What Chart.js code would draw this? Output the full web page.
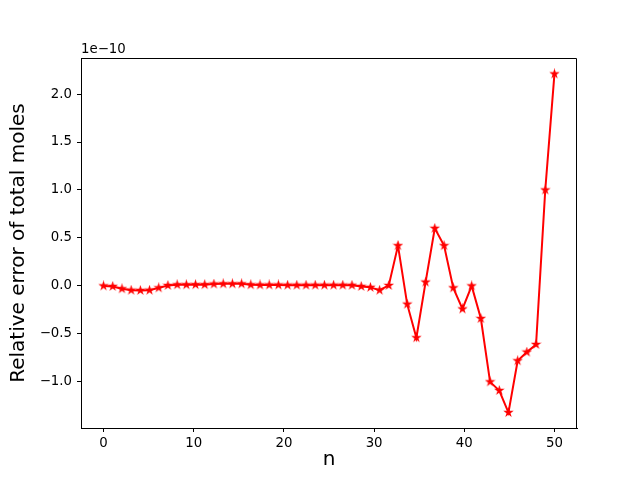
<!DOCTYPE html>
<html>
<head>
<meta charset="utf-8">
<script src="https://cdn.jsdelivr.net/npm/chart.js@4/dist/chart.umd.min.js"></script>
<style>
    body { margin: 0; background: #fff; }
    canvas { display: block; }
</style>
</head>
<body>
<canvas id="errorGraph" width="640" height="480"></canvas>
<script>
// n sampled on linspace(0, 50, 50)
const nValues = [0, 1.02, 2.04, 3.06, 4.08, 5.10, 6.12, 7.14, 8.16, 9.18,
    10.20, 11.22, 12.24, 13.27, 14.29, 15.31, 16.33, 17.35, 18.37, 19.39,
    20.41, 21.43, 22.45, 23.47, 24.49, 25.51, 26.53, 27.55, 28.57, 29.59,
    30.61, 31.63, 32.65, 33.67, 34.69, 35.71, 36.73, 37.76, 38.78, 39.80,
    40.82, 41.84, 42.86, 43.88, 44.90, 45.92, 46.94, 47.96, 48.98, 50];
// relative error, in units of 1e-10
const errorE10 = [0.0, -0.005, -0.03, -0.045, -0.047, -0.045, -0.02, 0.005, 0.012, 0.012,
    0.013, 0.013, 0.02, 0.022, 0.022, 0.022, 0.012, 0.01, 0.01, 0.01,
    0.008, 0.008, 0.008, 0.008, 0.008, 0.008, 0.008, 0.007, -0.005, -0.015,
    -0.045, 0.005, 0.42, -0.19, -0.54, 0.04, 0.60, 0.42, -0.02, -0.24,
    0.0, -0.34, -1.0, -1.09, -1.32, -0.78, -0.69, -0.61, 1.0, 2.21];
const xTicks = [0, 10, 20, 30, 40, 50];
const yTicks = [-1.0, -0.5, 0.0, 0.5, 1.0, 1.5, 2.0];

const tickFont = { family: 'DejaVu Sans', size: 13.3 };
const titleFont = { family: 'DejaVu Sans', size: 20 };

function starMarker(size, color) {
    const c = document.createElement('canvas');
    c.width = size;
    c.height = size;
    const g = c.getContext('2d');
    const cx = size / 2, cy = size / 2;
    const outer = size / 2, inner = outer * 0.38;
    g.beginPath();
    for (let k = 0; k < 10; k++) {
        const r = k % 2 === 0 ? outer : inner;
        const a = -Math.PI / 2 + k * Math.PI / 5;
        g.lineTo(cx + r * Math.cos(a), cy + r * Math.sin(a));
    }
    g.closePath();
    g.fillStyle = color;
    g.fill();
    return c;
}

// top and right spines plus the offset text
const framePlugin = {
    id: 'frame',
    afterDraw(chart) {
        const { ctx, chartArea } = chart;
        ctx.save();
        ctx.strokeStyle = '#000';
        ctx.lineWidth = 1;
        ctx.beginPath();
        ctx.moveTo(chartArea.left, chartArea.top + 0.5);
        ctx.lineTo(chartArea.right - 0.5, chartArea.top + 0.5);
        ctx.lineTo(chartArea.right - 0.5, chartArea.bottom);
        ctx.stroke();
        ctx.fillStyle = '#000';
        ctx.font = '13.3px "DejaVu Sans"';
        ctx.textAlign = 'left';
        ctx.textBaseline = 'alphabetic';
        ctx.fillText('1e\u221210', chartArea.left, chartArea.top - 5);
        ctx.restore();
    }
};

function fixedTicks(list) {
    return function (scale) {
        scale.ticks = list.map((v) => ({ value: v }));
    };
}

const ctx = document.getElementById('errorGraph').getContext('2d');
new Chart(ctx, {
    type: 'line',
    data: {
        datasets: [{
            data: nValues.map((n, i) => ({ x: n, y: errorE10[i] })),
            borderColor: '#ff0000',
            borderWidth: 2,
            pointStyle: starMarker(11, '#ff0000'),
            pointRadius: 5,
            tension: 0,
            fill: false,
        }]
    },
    options: {
        responsive: false,
        animation: false,
        layout: { padding: { left: 0, right: 63, top: 58, bottom: 0 } },
        plugins: { legend: { display: false }, tooltip: { enabled: false } },
        scales: {
            x: {
                type: 'linear',
                min: -2.5,
                max: 52.5,
                afterBuildTicks: fixedTicks(xTicks),
                afterFit: (scale) => { scale.height = 52; },
                grid: { drawOnChartArea: false, tickLength: 4, color: '#000' },
                border: { color: '#000' },
                ticks: { color: '#000', font: tickFont, padding: 4, maxRotation: 0 },
                title: { display: true, text: 'n', color: '#000', font: titleFont, padding: { top: 0, bottom: 8 } },
            },
            y: {
                type: 'linear',
                min: -1.481,
                max: 2.376,
                afterBuildTicks: fixedTicks(yTicks),
                afterFit: (scale) => { scale.width = 81; },
                grid: { drawOnChartArea: false, tickLength: 4, color: '#000' },
                border: { color: '#000' },
                ticks: {
                    color: '#000', font: tickFont, padding: 5,
                    callback: (v) => (v < 0 ? '\u2212' + Math.abs(v).toFixed(1) : v.toFixed(1)),
                },
                title: { display: true, text: 'Relative error of total moles', color: '#000', font: titleFont, padding: { top: 7, bottom: 0 } },
            }
        }
    },
    plugins: [framePlugin]
});
</script>
</body>
</html>
